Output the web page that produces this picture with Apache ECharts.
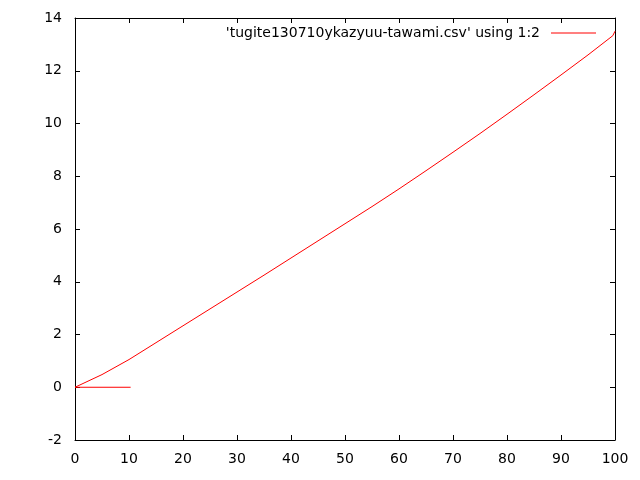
<!DOCTYPE html>
<html>
<head>
<meta charset="utf-8">
<script src="https://cdn.jsdelivr.net/npm/echarts@6/dist/echarts.min.js"></script>
<style>html,body{margin:0;padding:0;background:#fff}#c{width:640px;height:480px}</style>
</head>
<body>
<div id="c"></div>
<script>
const seriesName = "'tugite130710ykazyuu-tawami.csv' using 1:2";
const xValues = [10.3, 0, 5, 10, 15, 20, 25, 30, 35, 40, 45, 50, 55, 60, 65, 70, 75, 80, 85, 90, 95, 99.6, 100];
const yValues = [0, 0, 0.48, 1.05, 1.69, 2.33, 2.97, 3.61, 4.25, 4.90, 5.55, 6.20, 6.85, 7.52, 8.21, 8.91, 9.62, 10.35, 11.09, 11.84, 12.60, 13.33, 13.50];
const xTicks = [0, 10, 20, 30, 40, 50, 60, 70, 80, 90, 100];
const yTicks = [-2, 0, 2, 4, 6, 8, 10, 12, 14];

const font = 'DejaVu Sans, sans-serif';
const data = xValues.map((x, i) => [x, yValues[i]]);
const chart = echarts.init(document.getElementById('c'), null, {renderer: 'canvas'});
const lineStyle = {color: '#000', width: 1};
const tickStyle = {show: true, inside: true, length: 5, lineStyle: {color: '#000', width: 1}};
chart.setOption({
  animation: false,
  backgroundColor: '#fff',
  grid: {left: 75, right: 25, top: 18, bottom: 40, containLabel: false},
  legend: {
    show: true, right: 39, top: 21, align: 'right',
    itemWidth: 45, itemHeight: 1, icon: 'rect',
    textStyle: {fontFamily: font, fontSize: 14, color: '#000', padding: [0, 6, 3, 0]},
    data: [seriesName]
  },
  xAxis: [
    {type: 'value', min: xTicks[0], max: xTicks[xTicks.length - 1], interval: 10, position: 'bottom',
     axisLine: {show: true, onZero: false, lineStyle}, axisTick: tickStyle, splitLine: {show: false},
     axisLabel: {color: '#000', fontFamily: font, fontSize: 14, margin: 12}},
    {type: 'value', min: xTicks[0], max: xTicks[xTicks.length - 1], interval: 10, position: 'top',
     axisLine: {show: true, onZero: false, lineStyle}, axisTick: tickStyle, splitLine: {show: false},
     axisLabel: {show: false}}
  ],
  yAxis: [
    {type: 'value', min: yTicks[0], max: yTicks[yTicks.length - 1], interval: 2, position: 'left',
     axisLine: {show: true, onZero: false, lineStyle}, axisTick: tickStyle, splitLine: {show: false},
     axisLabel: {color: '#000', fontFamily: font, fontSize: 14, margin: 13}},
    {type: 'value', min: yTicks[0], max: yTicks[yTicks.length - 1], interval: 2, position: 'right',
     axisLine: {show: true, onZero: false, lineStyle}, axisTick: tickStyle, splitLine: {show: false},
     axisLabel: {show: false}}
  ],
  series: [{
    name: seriesName, type: 'line', data: data, showSymbol: false, symbol: 'none',
    lineStyle: {color: '#ff0000', width: 1}, itemStyle: {color: '#ff0000'}
  }]
});
</script>
</body>
</html>
